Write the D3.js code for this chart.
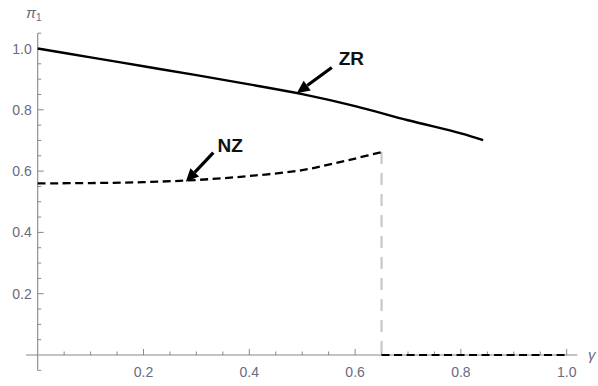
<!DOCTYPE html>
<html><head><meta charset="utf-8">
<script src="https://cdn.jsdelivr.net/npm/d3@7"></script>
<style>body{margin:0;background:#fff}svg{display:block}</style>
</head><body>
<script>
// Data
const zrGamma = [0, 0.1, 0.2, 0.3, 0.4, 0.5, 0.6, 0.7, 0.8, 0.842];
const zrPi    = [1.0, 0.971, 0.942, 0.913, 0.883, 0.851, 0.812, 0.766, 0.723, 0.701];
const nzGamma = [0, 0.1, 0.2, 0.3, 0.4, 0.5, 0.55, 0.6, 0.65];
const nzPi    = [0.560, 0.561, 0.564, 0.571, 0.584, 0.603, 0.621, 0.641, 0.662];
const jumpGamma = 0.65;
const tailGamma = [0.65, 1.0];
const tailPi = [0, 0];
const xTicks = [0.2, 0.4, 0.6, 0.8, 1.0];
const yTicks = [0.2, 0.4, 0.6, 0.8, 1.0];
const labels = [
  {text: "ZR", tip: [0.4896, 0.854], tail: [0.556, 0.938], pos: [0.569, 0.946]},
  {text: "NZ", tip: [0.280, 0.565], tail: [0.332, 0.660], pos: [0.340, 0.663]}
];

const W = 598, H = 386;
const svg = d3.select("body").append("svg").attr("width", W).attr("height", H);
const x = d3.scaleLinear().domain([0, 1]).range([37.7, 566.7]);
const y = d3.scaleLinear().domain([0, 1]).range([355, 48.5]);
const axisColor = "#888", textColor = "#6a6a80";
const font = "'Liberation Sans', Arial, sans-serif";

// Axes
const ax = svg.append("g");
ax.append("line").attr("x1", x(-0.022)).attr("x2", x(1.02)).attr("y1", y(0)).attr("y2", y(0))
  .attr("stroke", axisColor).attr("stroke-width", 1.1);
ax.append("line").attr("x1", x(0)).attr("x2", x(0)).attr("y1", y(-0.05)).attr("y2", y(1.05))
  .attr("stroke", axisColor).attr("stroke-width", 1.1);
const minorX = d3.range(0.05, 1.001, 0.05);
minorX.forEach(v => {
  const major = xTicks.some(t => Math.abs(t - v) < 1e-6);
  ax.append("line").attr("x1", x(v)).attr("x2", x(v)).attr("y1", y(0)).attr("y2", y(0) - (major ? 6 : 3.5))
    .attr("stroke", axisColor).attr("stroke-width", 1);
});
const minorY = d3.range(-0.05, 1.051, 0.05);
minorY.forEach(v => {
  if (Math.abs(v) < 1e-6) return;
  const major = yTicks.some(t => Math.abs(t - v) < 1e-6);
  ax.append("line").attr("x1", x(0)).attr("x2", x(0) + (major ? 6 : 3.5)).attr("y1", y(v)).attr("y2", y(v))
    .attr("stroke", axisColor).attr("stroke-width", 1);
});
xTicks.forEach(t => {
  ax.append("text").attr("x", x(t)).attr("y", y(0) + 22).attr("text-anchor", "middle")
    .attr("font-family", font).attr("font-size", 14).attr("fill", textColor).text(t.toFixed(1));
});
yTicks.forEach(t => {
  ax.append("text").attr("x", x(0) - 6).attr("y", y(t) + 5).attr("text-anchor", "end")
    .attr("font-family", font).attr("font-size", 14).attr("fill", textColor).text(t.toFixed(1));
});
ax.append("text").attr("x", 26).attr("y", 18).attr("font-family", font).attr("font-size", 15)
  .attr("font-style", "italic").attr("fill", textColor).html("π<tspan font-size='10' dy='3' font-style='normal'>1</tspan>");
ax.append("text").attr("x", 588).attr("y", 360).attr("font-family", font).attr("font-size", 15)
  .attr("font-style", "italic").attr("fill", textColor).text("γ");

// Curves
const line = d3.line().x(d => x(d[0])).y(d => y(d[1])).curve(d3.curveCatmullRom);
svg.append("path").datum(zrGamma.map((g, i) => [g, zrPi[i]])).attr("d", line)
  .attr("fill", "none").attr("stroke", "#000").attr("stroke-width", 2.4);
svg.append("line").attr("x1", x(jumpGamma)).attr("x2", x(jumpGamma))
  .attr("y1", y(nzPi[nzPi.length - 1])).attr("y2", y(0))
  .attr("stroke", "#c8c8c8").attr("stroke-width", 2.2).attr("stroke-dasharray", "12,9");
svg.append("path").datum(nzGamma.map((g, i) => [g, nzPi[i]])).attr("d", line)
  .attr("fill", "none").attr("stroke", "#000").attr("stroke-width", 2.3).attr("stroke-dasharray", "8,4.5");
svg.append("path").datum(tailGamma.map((g, i) => [g, tailPi[i]])).attr("d", line)
  .attr("fill", "none").attr("stroke", "#000").attr("stroke-width", 2.2).attr("stroke-dasharray", "8,4.5");

// Annotations
labels.forEach(l => {
  const tx = x(l.tip[0]), ty = y(l.tip[1]), sx = x(l.tail[0]), sy = y(l.tail[1]);
  const ang = Math.atan2(ty - sy, tx - sx);
  const len = 13, half = 6;
  const bx = tx - len * Math.cos(ang), by = ty - len * Math.sin(ang);
  svg.append("line").attr("x1", sx).attr("y1", sy).attr("x2", bx).attr("y2", by)
    .attr("stroke", "#000").attr("stroke-width", 3.2);
  const px = -Math.sin(ang), py = Math.cos(ang);
  svg.append("polygon").attr("points",
    [[tx, ty], [bx + half * px, by + half * py], [bx - half * px, by - half * py]].map(p => p.join(",")).join(" "))
    .attr("fill", "#000");
  svg.append("text").attr("x", x(l.pos[0])).attr("y", y(l.pos[1])).attr("font-family", font)
    .attr("font-size", 19).attr("font-weight", "bold").attr("fill", "#111").text(l.text);
});
</script>
</body></html>
